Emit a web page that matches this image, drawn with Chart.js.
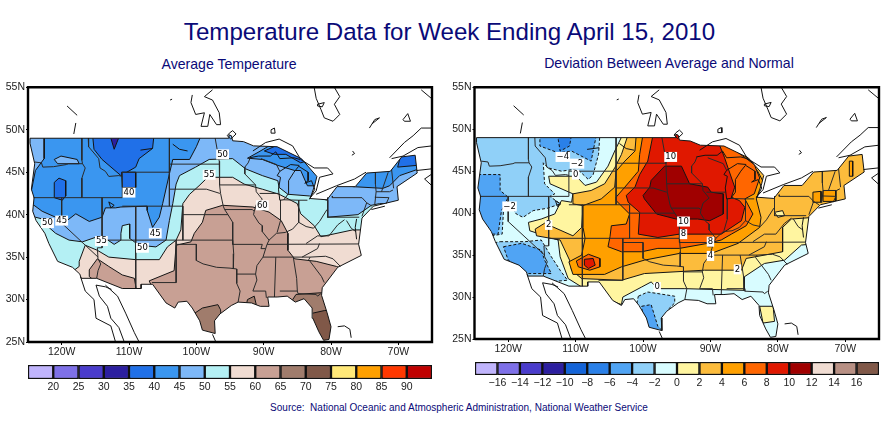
<!DOCTYPE html>
<html>
<head>
<meta charset="utf-8">
<title>Temperature Data for Week Ending April 15, 2010</title>
<script src="https://cdn.jsdelivr.net/npm/chart.js@4"></script>
<style>
  html, body { margin: 0; padding: 0; background: #fff; }
  body { width: 895px; height: 423px; position: relative; overflow: hidden; font-family: "Liberation Sans", Arial, sans-serif; }
  canvas { position: absolute; }
  .txt { position: absolute; white-space: nowrap; text-align: center; color: #0a0a78; }
</style>
</head>
<body>
<div class="txt" style="left:0;width:899px;top:18px;font-size:24.1px">Temperature Data for Week Ending April 15, 2010</div>
<div class="txt" style="left:129px;width:200px;top:56px;font-size:14.1px">Average Temperature</div>
<div class="txt" style="left:519px;width:300px;top:55px;font-size:14.1px">Deviation Between Average and Normal</div>
<div class="txt" style="left:259px;width:400px;top:402px;font-size:10px">Source:&nbsp; National Oceanic and Atmospheric Administration, National Weather Service</div>
<canvas id="mapLeft" width="445" height="285" style="left:0;top:80px"></canvas>
<canvas id="mapRight" width="445" height="285" style="left:446px;top:80px"></canvas>
<canvas id="barLeft" width="445" height="36" style="left:0;top:362px"></canvas>
<canvas id="barRight" width="445" height="36" style="left:446px;top:358px"></canvas>
<script>
const lonTicks = [-120, -110, -100, -90, -80, -70];
const latTicks = [25, 30, 35, 40, 45, 50, 55];

const legendLeftLabels = ['20','25','30','35','40','45','50','55','60','65','70','75','80','85','90'];
const legendLeftColors = ['#c0b4fc','#7e70e8','#4a3ccc','#2c1fa0','#2070e8','#3a96f0','#7db8f8','#b4f0f4','#f0dcd2','#c8a094','#a07c6c','#805848','#ffe878','#ffa000','#ff3800','#c00000'];
const legendRightLabels = ['\u221216','\u221214','\u221212','\u221210','\u22128','\u22126','\u22124','\u22122','0','2','4','6','8','10','12','14','16'];
const legendRightColors = ['#c0b4fc','#7e70e8','#4a3ccc','#2c1fa0','#1464d8','#2a80e8','#50a4f4','#90d0f8','#d8fcff','#fff5a0','#fcbc3c','#ffa000','#ff6600','#e01800','#a00000','#f0dcd2','#b89084','#805848'];

// lower 48 outline, lon/lat
const usOutline = [[-124.7,49],[-95.2,49],[-95.15,49.4],[-94.8,49.3],[-94.6,48.7],[-93,48.6],[-91.5,48.1],[-88,48],[-84.4,46.6],[-82.1,44.5],[-82.4,43.5],[-83.1,41.9],[-80.6,41.75],[-79.1,43.3],[-76.4,43.3],[-74.7,44.9],[-71.2,45.1],[-69.5,46.8],[-67.5,47],[-67.2,44.9],[-70.2,43.3],[-70,41.7],[-73.7,41],[-75.4,39.6],[-75.9,36.5],[-75.5,35.2],[-79,33.8],[-81.3,31.4],[-81.4,30.5],[-80.6,28.5],[-80,26.8],[-80.3,25.3],[-81.1,25.2],[-81.8,26.2],[-82.7,27.8],[-82.8,29],[-84,30.1],[-85.3,29.7],[-86.5,30.4],[-88,30.3],[-89.4,30.3],[-89.2,29.2],[-90.5,29.2],[-91.8,29.6],[-93.8,29.7],[-94.8,29.3],[-96.5,28.3],[-97.3,27.5],[-97.2,26],[-99.1,26.4],[-99.5,27.5],[-100.6,29],[-101.4,29.8],[-102.7,29.7],[-103.2,29],[-104.5,29.6],[-106.5,31.8],[-108.2,31.8],[-108.2,31.3],[-111,31.3],[-114.8,32.5],[-117.1,32.5],[-117.3,33],[-118.4,33.8],[-120.6,34.5],[-121.9,36.6],[-122.5,37.8],[-123.8,39.3],[-124.3,40.4],[-124.1,42],[-124.5,43],[-124,46],[-124.7,48.4],[-124.7,49]];

const stateLines = [
  [[-124,46.2],[-123,46.1],[-122.8,45.6],[-121.2,45.65],[-119.3,45.9],[-119,46],[-116.9,46]],
  [[-117,49],[-117,46.4],[-116.9,46],[-116.5,45.5],[-117,44.3],[-117,42]],
  [[-124.2,42],[-111,42]],
  [[-120,42],[-120,39],[-114.6,35]],
  [[-114,42],[-114,36.1],[-114.7,36.1],[-114.6,34.8],[-114.2,34.2],[-114.6,33.4],[-114.8,32.5]],
  [[-116.05,49],[-116,48],[-114.5,46.6],[-114.3,45.5],[-113.5,45.1],[-113,44.5],[-111.5,44.6],[-111,44.5]],
  [[-111,42],[-111,45],[-104,45],[-104,41],[-111,41]],
  [[-104,49],[-104,45]],
  [[-104,45.95],[-96.6,45.95]],
  [[-104,43],[-98.5,43],[-96.5,42.5]],
  [[-104,41],[-102,41],[-102,37]],
  [[-102,40],[-95.3,40]],
  [[-109,41],[-109,31.3]],
  [[-114,37],[-94.6,37]],
  [[-103,37],[-103,32],[-106.6,32]],
  [[-103,36.5],[-100,36.5],[-100,34.6],[-99,34.2],[-97,33.8],[-95,33.7],[-94,33.6],[-94,31.9],[-93.5,31],[-93.8,29.7]],
  [[-94.6,37],[-94.45,35.4],[-94.5,33.6]],
  [[-95.3,40],[-94.6,39.1],[-94.6,36.5],[-90.2,36.5],[-90.4,36],[-89.7,36]],
  [[-94,33],[-91.2,33]],
  [[-92,46.7],[-92.3,46.1],[-92.8,45.6],[-92.8,44.8],[-91.2,43.5],[-91.1,42.7],[-90.2,41.8],[-91.1,41.2],[-91.4,40.4],[-91.5,40],[-90.7,39],[-90.2,38.7],[-90.2,38],[-89.2,37],[-89.5,36.5],[-89.7,36],[-90.1,35],[-91,34],[-91.2,33],[-91,32.3],[-91.6,31],[-89.7,31],[-89.6,30.2]],
  [[-89.2,37],[-88.1,37.8],[-86.8,37.9],[-85.7,38.3],[-84.8,39.1],[-83.7,38.6],[-82.6,38.4],[-81.7,39.2],[-80.6,40.6]],
  [[-96.5,43.5],[-91.2,43.5]],
  [[-97.2,49],[-96.6,46.3],[-96.6,45.9],[-96.5,43.5],[-96.4,42.5],[-96,41],[-95.8,40.6],[-95.3,40]],
  [[-95.8,40.6],[-91.7,40.6],[-91.4,40.4]],
  [[-90.6,42.5],[-87.8,42.5]],
  [[-90.4,46.6],[-88.1,45.9],[-87.6,45.1]],
  [[-87.5,41.7],[-87.5,39.3],[-88,37.9]],
  [[-84.8,41.7],[-84.8,39.1]],
  [[-87,41.75],[-84.8,41.7],[-83.5,41.7]],
  [[-89.5,36.5],[-75.9,36.55]],
  [[-81.7,36.6],[-82,36],[-84.3,35]],
  [[-90.1,35],[-83.1,35]],
  [[-88.2,35],[-88.4,30.3]],
  [[-85.6,35],[-85.1,32.5],[-85,31]],
  [[-87.6,31],[-85,31],[-84.9,30.7],[-82.2,30.6],[-82,30.4],[-81.5,30.7]],
  [[-83.1,35],[-83.3,34.7],[-81.4,32.7],[-81,32]],
  [[-83.1,35],[-80.8,35.1],[-79.7,34.8],[-78.6,33.9]],
  [[-83.7,36.6],[-82,37.5],[-80.3,37.5],[-79,38.8],[-78,39.4]],
  [[-80.5,42],[-80.5,39.7],[-75.8,39.7]],
  [[-79.8,42.2],[-79.8,42],[-75.4,42],[-74.7,41.4],[-73.9,41]],
  [[-75.4,39.8],[-74.7,41.4]],
  [[-73.4,45],[-73.4,43.6],[-73.3,42.7],[-73.5,41.2]],
  [[-73.3,42.7],[-71.3,42.7],[-70.8,42.9]],
  [[-73.5,42.05],[-71.4,42],[-71.8,41.3]],
  [[-71.5,45],[-72.5,42.7]],
  [[-71,45.3],[-70.7,43.1]],
  [[-77.7,39.3],[-77,38.4],[-76.3,38]]
];

const shoreLines = [
  [[-100.6,54.1],[-100.8,53.2],[-100.1,51.8],[-98.8,52],[-99.3,50.4],[-98.3,50.4],[-98,51.8],[-97,50.6],[-96.4,50.6],[-96.6,52],[-97.6,53.5],[-98.8,53.9],[-97.6,54.7]],
  [[-103.9,53.5],[-103.6,53.6]],
  [[-119.2,52.8],[-117.7,51.7]],
  [[-117.9,50.8],[-118.2,49.5]],
  [[-82.5,55],[-82.2,53.7],[-81.5,52.4],[-81,51.4],[-79.7,51],[-78.7,51.8],[-79.5,53],[-78.7,53.9],[-79.5,55]],
  [[-82,53],[-81,53.2],[-81.3,52.7],[-82,52.8],[-82,53]],
  [[-74.3,50.2],[-73.5,51.2],[-72.8,51.4],[-73.9,50.7]],
  [[-69.3,51.2],[-68.6,51.9],[-68.2,51],[-69.1,51],[-69.3,51.2]],
  [[-66.6,54.7],[-65.1,53.7]],
  [[-65,50.2],[-66.6,50.2],[-67.8,49.3],[-69.1,48.5],[-71.3,46.7]],
  [[-65,48.1],[-67.1,47.9],[-69.3,46.9],[-71,46.6]],
  [[-65,45.4],[-67.3,45.2]],
  [[-65,44.8],[-66.1,44.2],[-65,43.4]],
  [[-95.1,49.6],[-94.6,49.9],[-94.1,49.5],[-94.9,48.9],[-95.4,49.3],[-95.1,49.6]],
  [[-88.9,50],[-88.4,50.2],[-88.3,49.6],[-88.9,49.6],[-88.9,50]],
  [[-76.8,47.5],[-76.5,47.2],[-76.9,47]],
  [[-91.6,47.5],[-89.7,48.5],[-87.7,48.9],[-85.7,48.1],[-84.5,46.5],[-82.5,45.5],[-80.5,45.5],[-79.7,44.8],[-81.7,44.4],[-82.2,42.8],[-83.2,41.9]],
  [[-82.2,42.4],[-79.2,43.4],[-76.5,44.2],[-74.8,45]],
  [[-92.1,46.7],[-90.8,46.9],[-89,46.9],[-88.2,47.4],[-87.6,46.6],[-85.5,46.7],[-84.6,46.5]],
  [[-84.7,45.8],[-86,45.9],[-87.6,45.1],[-88,44.6],[-87.5,44.4],[-87.8,43],[-87.6,41.7],[-87,41.75],[-86.3,42.5],[-86.3,44],[-85.5,45],[-84.8,45.7],[-83.4,45],[-83.4,44],[-83.9,43.7],[-82.9,44],[-82.4,43],[-83.2,41.8]],
  [[-76.2,39.5],[-76.4,38.5],[-76.2,37.1]],
  [[-74,40.6],[-72,41]],
  [[-117.2,32.7],[-116.5,31],[-115.2,30],[-114.9,27.8],[-112.7,26.9],[-112,25]],
  [[-114.9,31.7],[-114.4,30.4],[-113.2,29.2],[-112.7,27.8],[-111.5,26.7],[-110.7,25]],
  [[-114.9,31.7],[-113.5,31.5],[-112.6,31.2]],
  [[-113.5,31.7],[-111.7,30.4],[-110.5,28.4],[-109.2,26.1],[-108.5,25]],
  [[-97.6,25.9],[-97.1,25]],
  [[-79,26.8],[-78,26.9],[-77.2,26.5],[-77,25.5]],
  [[-103.5,48.3],[-102.5,47.7],[-101.3,47.5]],
  [[-108.3,47.6],[-106.5,47.8]],
  [[-113,41.5],[-112.2,41.1],[-112.7,40.8],[-113,41.5]]
];

// average temperature contours, lon/lat
const avgWarm55 = [[-119.4,32.7],[-117.4,33.9],[-117.4,34.5],[-116.5,36.4],[-114.7,35.8],[-113,35],[-109,34.7],[-105.5,34.7],[-104.3,36.2],[-103,37],[-102.3,38.2],[-102,41.3],[-101,42.4],[-99.6,43.4],[-98.3,44.4],[-94.6,44.4],[-92.9,43.6],[-90.2,43],[-87.7,42.4],[-85,41.3],[-84.5,40.1],[-82.5,38.7],[-81.5,37.4],[-76.8,38.2],[-75.3,38.2],[-73.8,33.5],[-74.8,24.5],[-119.4,24.5]];
const avgWarm60West = [[-115.9,33.5],[-114.7,34.8],[-113,33.9],[-111,32.9],[-109.2,32.5],[-108.9,31.1],[-111.5,31.1],[-114.9,32.1],[-115.9,32.7]];
const avgWarm60 = [[-107,32.2],[-103.3,33.4],[-103,36.4],[-100.8,36.8],[-100.3,37.8],[-99.1,39.1],[-98.6,40.5],[-96.1,41.1],[-91.6,40.9],[-89.2,40.3],[-87.4,39.3],[-86.4,37.8],[-86.4,35.8],[-85.4,34.8],[-82.2,34.5],[-79.2,33.9],[-77.8,33.5],[-77.8,24.5],[-104.5,24.5],[-106,30.4]];
const avgWarm65Texas = [[-100.6,28.2],[-99.1,29],[-96.8,29.4],[-96.4,28.8],[-96.1,25.3],[-99.6,25.3]];
const avgWarm65Louisiana = [[-92.4,30],[-91.4,30.4],[-91.1,29.4],[-92.6,29.3]];
const avgWarm65Florida = [[-85.2,30.6],[-81.5,30.8],[-80.2,30.8],[-79.2,24.5],[-82.2,24.5],[-84.7,28.8],[-85.7,29.98]];
const avgWarm70 = [[-82.7,28.4],[-81,28.7],[-79.2,28.8],[-79.2,24.5],[-82.2,24.5],[-83.7,28]];
const avgCold50 = [[-125.4,40.7],[-123.9,39.7],[-122.9,39.5],[-121.9,38.5],[-120.9,37.8],[-118.9,37],[-116.9,36.8],[-114.7,37.4],[-113.5,37.2],[-112.2,36.5],[-111.2,37],[-111.2,37.8],[-111,38.7],[-109.9,38.9],[-109.9,37.2],[-108.5,36.4],[-106,36.2],[-104.5,37],[-104,39.3],[-103.5,41.3],[-103,43.6],[-102.5,44.6],[-100.1,45.6],[-98.1,46.5],[-94.6,46.6],[-92.7,45.4],[-90.2,44.6],[-87.9,44],[-87.7,43.2],[-86.4,42.4],[-83.2,42.2],[-80.5,41.7],[-80.5,39.7],[-76,40],[-74,41.1],[-72.8,41.3],[-64.9,41.3],[-64.9,50.2],[-125.4,50.2]];
const avgCold45 = [[-125.4,41.1],[-124.1,41.1],[-122.9,40.4],[-120.9,39.7],[-119.9,39.7],[-119.2,39.3],[-117.9,40.1],[-115.9,39.2],[-114,39.7],[-113.5,40.8],[-112,40.8],[-111.2,40.9],[-107.3,41],[-107.3,40.5],[-106.5,38.5],[-105.5,39.7],[-105,41.3],[-104,44.8],[-103.5,46.5],[-101,46.5],[-100,48],[-99.3,49.3],[-99.3,50.2],[-122.6,50.2],[-122.6,46.6],[-123.9,45.2],[-124.4,43.2],[-124.9,41.3]];
const avgPatch50 = [[-121.1,46.5],[-120.1,46.9],[-117.7,46.5],[-117.4,46],[-120.6,46]];
const avgCold45Lakes = [[-92.4,46.65],[-90.7,47.4],[-89.2,48.1],[-85.7,48.1],[-81.7,45.2],[-82,43.4],[-83.5,43.4],[-84.5,45.2],[-85.4,45.2],[-87.9,45.8],[-90.2,46.5]];
const avgCold45East = [[-76.8,43.3],[-75.5,45.2],[-71.6,45.2],[-70.1,47.1],[-66.9,47.3],[-66.9,45.4],[-69.8,44.6],[-71.3,43.4],[-72.3,43.1]];
const avgCold40 = [[-115.4,49.3],[-115.2,47.7],[-114,46.5],[-111.2,44.6],[-109,45.6],[-108.5,46.6],[-106.5,47.8],[-106.3,49.3]];
const avgCold40Wyoming = [[-111.1,45],[-109,45],[-109,43.2],[-111,43.2]];
const avgCold40Oregon = [[-121.1,43.8],[-120.4,44.3],[-119.4,44],[-119.4,42.2],[-119.9,41.7],[-121.1,42]];
const avgCold40Superior = [[-89.9,47.5],[-88.2,48.1],[-86.2,48.3],[-83.7,46.3],[-84.5,46.1],[-86.7,47.1],[-88.4,47.1]];
const avgCold40Maine = [[-70.1,45.6],[-69.6,47.1],[-66.9,47.3],[-67.3,45.8]];
const avgCold35 = [[-112.8,49.3],[-112.2,47.7],[-111.4,49.3]];

const avgLayers = [
  [avgWarm55, '#f0dcd2'], [avgWarm60West, '#c8a094'], [avgWarm60, '#c8a094'],
  [avgWarm65Texas, '#a07c6c'], [avgWarm65Louisiana, '#a07c6c'], [avgWarm65Florida, '#a07c6c'], [avgWarm70, '#805848'],
  [avgCold50, '#7db8f8'], [avgCold45, '#3a96f0'], [avgPatch50, '#7db8f8'], [avgCold45Lakes, '#3a96f0'], [avgCold45East, '#3a96f0'],
  [avgCold40, '#2070e8'], [avgCold40Wyoming, '#2070e8'], [avgCold40Oregon, '#2070e8'], [avgCold40Superior, '#2070e8'], [avgCold40Maine, '#2070e8'],
  [avgCold35, '#2c1fa0']
];
const avgLabels = [['50',-96.1,47.1],['55',-98.1,44.7],['40',-110,42.6],['60',-90.2,41.1],['50',-122.1,39],['45',-120,39.3],['45',-106.1,37.8],['55',-114.1,36.9],['50',-108,36.1]];

// deviation from normal contours, lon/lat
const devWarm0 = [[-103,49.4],[-64.2,49.4],[-64.2,37.1],[-76.5,36.2],[-79,34.4],[-82,34],[-85,32.4],[-85,30.8],[-93.8,31],[-97.8,31],[-98.8,31.8],[-100.2,31.2],[-103,30],[-103.2,29.1],[-105.2,29.7],[-106.7,31],[-109.1,31.2],[-111.1,32.2],[-112.3,34.8],[-112.6,36.8],[-116.8,37.9],[-117,38.9],[-115.1,39.3],[-113.1,39.9],[-112.1,41.5],[-110.6,41.3],[-110.4,42.3],[-113.8,43.5],[-114,44.4],[-109.9,44.4],[-108.6,43.3],[-106.9,43.7],[-105.2,45.6],[-104.2,47.4]];
const devFlorida = [[-82.7,28.9],[-80.7,28.9],[-80.5,27.1],[-82.2,26.9]];
const devWarm2 = [[-102.2,49.4],[-64.2,49.4],[-64.2,39.1],[-74.6,39.5],[-78,39.3],[-79.3,38.3],[-79.3,35.4],[-84.7,34.6],[-85.4,33.2],[-90.9,33.2],[-99.8,32.8],[-103.2,32],[-109.1,32.2],[-110.6,33.2],[-110.9,34.4],[-112.3,36.8],[-115.8,37.3],[-116,38.1],[-114.6,38.8],[-110.4,37.3],[-109.1,38.3],[-108.9,40.9],[-110.4,41.1],[-110.4,42.3],[-107.7,42.7],[-105.7,43.5],[-104.2,45.4],[-103.2,47]];
const devBubble = [[-80.5,40.1],[-79.3,40.3],[-79,39.7],[-80,39.5]];
const devWarm4 = [[-101,49.4],[-88.4,49.4],[-85.9,48],[-83,45],[-82,43.5],[-83.2,41.7],[-82.5,39.5],[-82.7,38.3],[-85.9,36.4],[-89.9,35.2],[-94.6,35.2],[-99.8,34.4],[-103.2,33.6],[-105.7,32.7],[-110.4,32.7],[-111,34.2],[-109.1,35],[-108.6,37],[-108.9,38.3],[-108.9,40.9],[-106.2,41.7],[-104.2,43.1],[-104,45],[-102.7,46.2],[-101.2,47.4]];
const devHudson = [[-74.8,42.5],[-73.6,42.6],[-73.6,41.3],[-74.8,41.3]];
const devNewEngland = [[-73.3,42.7],[-71.4,42.7],[-71.4,41.4],[-73.3,41.4]];
const devMaine = [[-69.4,46.2],[-68.9,46.2],[-68.9,44.4],[-69.4,44.4]];
const devWarm6 = [[-100,49.4],[-88.4,49.4],[-86.2,47.4],[-83.5,45.8],[-82.7,44.2],[-83.5,42.3],[-84.9,41.7],[-83.7,39.9],[-84.7,38.5],[-86.9,37.5],[-88.4,36.8],[-90.4,36.4],[-94.6,35.8],[-97.8,35.8],[-100.2,35.4],[-103.2,35.4],[-105.2,36],[-104.9,37.2],[-104.7,38.5],[-102.5,38.7],[-102,39.9],[-104,41.5],[-104,41.9],[-102.7,43.1],[-100.7,45],[-100.5,47]];
const devWarm8 = [[-98.5,49.4],[-89.4,49.4],[-88.6,48],[-87.9,46.6],[-87.4,45.4],[-86.4,43.1],[-86.9,41.9],[-85.7,41.5],[-84.9,40.7],[-85.4,39.1],[-88.4,37.5],[-90.4,37.5],[-94.6,37.5],[-97.8,37.1],[-100.7,37.5],[-100.5,40.1],[-102.2,41.3],[-102.5,42.1],[-101.2,43.1],[-100.5,44.6],[-99.3,46.2]];
const devWarm10 = [[-98.8,43.9],[-96.8,45.6],[-94.3,45.6],[-93.1,43.5],[-90.4,43.1],[-89.9,42.5],[-88.1,42.3],[-88.1,39.9],[-90.1,39.1],[-91.9,39.3],[-95.1,39.3],[-98,39.9],[-99.8,41.7],[-100,42.1],[-99,43.1]];
const devSpot6 = [[-109.9,34.3],[-108.1,35.1],[-106.4,34.6],[-106.4,33.6],[-107.9,33.2],[-109.6,33.6]];
const devSpot8 = [[-108.7,34.5],[-107.4,34.6],[-107.1,33.8],[-108.1,33.4],[-108.7,33.8]];
const devCold2North = [[-125.9,49.4],[-106.4,49.4],[-106.6,47],[-107.4,44.6],[-108.1,44],[-109.4,45],[-110.4,45.2],[-112.1,45],[-114.1,45.4],[-114.8,46],[-114.6,43.5],[-113.1,42.3],[-113.8,42],[-112.3,41.1],[-114.1,40.6],[-116.3,40.3],[-117.8,39.5],[-118.8,39.9],[-120.2,41.5],[-120.7,40.3],[-120.9,37.5],[-122.5,37.3],[-125.9,37.3]];
const devCold2South = [[-121.2,36.6],[-117.5,36.6],[-115.1,36.8],[-113.6,34.8],[-112.3,33.2],[-111.2,32],[-117,31.6],[-122,33.2],[-122.5,36.4]];
const devCold2Texas = [[-100.7,30.1],[-99.3,30.6],[-95.3,30.1],[-95.3,29.3],[-96.3,28.5],[-96.3,24.9],[-99.8,24.9],[-101,28.9]];
const devCold4West = [[-125.2,44.6],[-121.2,44.6],[-121.2,42.7],[-120,41.9],[-121,40.3],[-121.5,37.5],[-124.4,37.5],[-125.2,41.1]];
const devCold4North = [[-115.3,49.4],[-115.3,48],[-112.6,47.2],[-110.6,47.4],[-107.7,46.2],[-106.9,49.4]];
const devCold4South = [[-120.7,36],[-118,36.4],[-115.1,35.6],[-114.6,34.4],[-113.6,32.8],[-117,32.8],[-120,34.4]];
const devCold4Texas = [[-100.2,28.9],[-98.8,29.1],[-97.8,26.5],[-96.3,25.3],[-99.8,25.3]];
const devCold6 = [[-112.7,49.4],[-112.3,47.4],[-110.9,48],[-110.6,49.4]];

const devLayers = [
  [devWarm0, '#fff5a0'], [devFlorida, '#fff5a0'], [devWarm2, '#fcbc3c'], [devBubble, '#fff5a0'],
  [devWarm4, '#ffa000'], [devHudson, '#ffa000'], [devNewEngland, '#ffa000'], [devMaine, '#ffa000'],
  [devWarm6, '#ff6600'], [devWarm8, '#e01800'], [devWarm10, '#a00000'], [devSpot6, '#ff6600'], [devSpot8, '#e01800'],
  [devCold2North, '#90d0f8', true], [devCold2South, '#90d0f8', true], [devCold2Texas, '#90d0f8', true],
  [devCold4West, '#50a4f4', true], [devCold4North, '#50a4f4', true], [devCold4South, '#50a4f4', true], [devCold4Texas, '#50a4f4', true],
  [devCold6, '#2a80e8', true]
];
const devLabels = [['10',-95.9,46.7],['\u22124',-111.9,46.7],['\u22122',-109.8,45.9],['0',-110,44.6],['\u22122',-119.8,40.8],['2',-114,38.6],['10',-94,39],['8',-94,37.5],['8',-90,36.6],['4',-90,34.9],['2',-86,33.3],['0',-97.9,31.2]];

const frameBox = [[-125,25],[-125,55],[-65,55],[-65,25],[-125,25]];
const tickFont = { family: '"Liberation Sans", Arial, sans-serif', size: 10.5 };

function toPoints(list) {
  return list.map(p => ({ x: p[0], y: p[1] }));
}

function buildMap(id, layers, labels, baseColor, leftWidth, rightPad, topPad, xHeight) {
  const datasets = [];
  const addLine = (points, opts) => datasets.push(Object.assign({
    data: toPoints(points), showLine: true, pointRadius: 0, borderColor: '#141414', borderWidth: 1, tension: 0, fill: false
  }, opts));

  addLine(usOutline, { fill: 'shape', backgroundColor: baseColor, borderWidth: 0 });
  layers.forEach(l => addLine(l[0].concat([l[0][0]]), {
    fill: 'shape', backgroundColor: l[1], borderDash: l[2] ? [3, 2] : []
  }));

  // white mask around the country so the contours stop at the coast
  const corner = [[-125,55],[-65,55],[-65,25],[-125,25],[-125,55]];
  addLine(corner.concat(usOutline.slice().reverse()).concat([[-125,55]]), { fill: 'shape', backgroundColor: '#fff', borderWidth: 0 });

  stateLines.forEach(s => addLine(s, { borderColor: '#2a2a2a' }));
  shoreLines.forEach(s => addLine(s, {}));
  addLine(usOutline, {});
  addLine(frameBox, { borderWidth: 2.4, borderColor: '#000', clip: false });

  // dataset 0 is painted last by Chart.js, so push painter order through "order"
  datasets.forEach((d, i) => { d.order = datasets.length - i; });

  const contourLabels = {
    id: 'contourLabels',
    afterDatasetsDraw(chart) {
      const c = chart.ctx;
      c.save();
      c.font = '8.5px "DejaVu Sans", sans-serif';
      c.textAlign = 'center';
      c.textBaseline = 'middle';
      labels.forEach(l => {
        const x = chart.scales.x.getPixelForValue(l[1]);
        const y = chart.scales.y.getPixelForValue(l[2]);
        const w = c.measureText(l[0]).width + 2;
        c.fillStyle = '#fff';
        c.fillRect(x - w / 2, y - 5, w, 10);
        c.fillStyle = '#000';
        c.fillText(l[0], x, y);
      });
      c.restore();
    }
  };

  return new Chart(document.getElementById(id), {
    type: 'scatter',
    data: { datasets },
    plugins: [contourLabels],
    options: {
      responsive: false,
      animation: false,
      devicePixelRatio: 1,
      layout: { padding: { top: topPad, right: rightPad, left: 0, bottom: 0 } },
      plugins: { legend: { display: false }, tooltip: { enabled: false } },
      scales: {
        x: {
          min: -125, max: -65,
          afterBuildTicks: s => { s.ticks = lonTicks.map(v => ({ value: v })); },
          afterFit: s => { s.height = xHeight; },
          grid: { drawOnChartArea: false, tickLength: 3, color: '#000' },
          border: { display: false },
          ticks: { font: tickFont, color: '#222', padding: 1, maxRotation: 0, callback: v => Math.abs(v) + 'W' }
        },
        y: {
          min: 25, max: 55,
          afterBuildTicks: s => { s.ticks = latTicks.map(v => ({ value: v })); },
          afterFit: s => { s.width = leftWidth; },
          grid: { drawOnChartArea: false, tickLength: 2, color: '#000' },
          border: { display: false },
          ticks: { font: tickFont, color: '#222', padding: 1, callback: v => v + 'N' }
        }
      }
    }
  });
}

function buildLegend(id, colors, labels, leftPad, rightPad, topPad, axisHeight) {
  return new Chart(document.getElementById(id), {
    type: 'bar',
    data: {
      labels: [''],
      datasets: colors.map(c => ({
        data: [1], backgroundColor: c, borderColor: '#111', borderWidth: 1.5, borderSkipped: false,
        barPercentage: 1, categoryPercentage: 1
      }))
    },
    options: {
      indexAxis: 'y',
      responsive: false,
      animation: false,
      devicePixelRatio: 1,
      layout: { padding: { left: leftPad, right: rightPad, top: topPad, bottom: 0 } },
      plugins: { legend: { display: false }, tooltip: { enabled: false } },
      scales: {
        x: {
          stacked: true, min: 0, max: colors.length,
          afterFit: s => { s.height = axisHeight; },
          grid: { display: false, drawTicks: false },
          border: { display: false },
          ticks: {
            stepSize: 1, autoSkip: false, maxRotation: 0, padding: 2, font: tickFont, color: '#222',
            callback: v => labels[v - 1] || ''
          }
        },
        y: { stacked: true, display: false }
      }
    }
  });
}

buildMap('mapLeft', avgLayers, avgLabels, '#b4f0f4', 28, 13, 5, 23);
buildMap('mapRight', devLayers, devLabels, '#d8fcff', 28.5, 12, 6, 26);
buildLegend('barLeft', legendLeftColors, legendLeftLabels, 28, 13, 3, 19);
buildLegend('barRight', legendRightColors, legendRightLabels, 29, 12, 4, 19);
</script>
</body>
</html>
